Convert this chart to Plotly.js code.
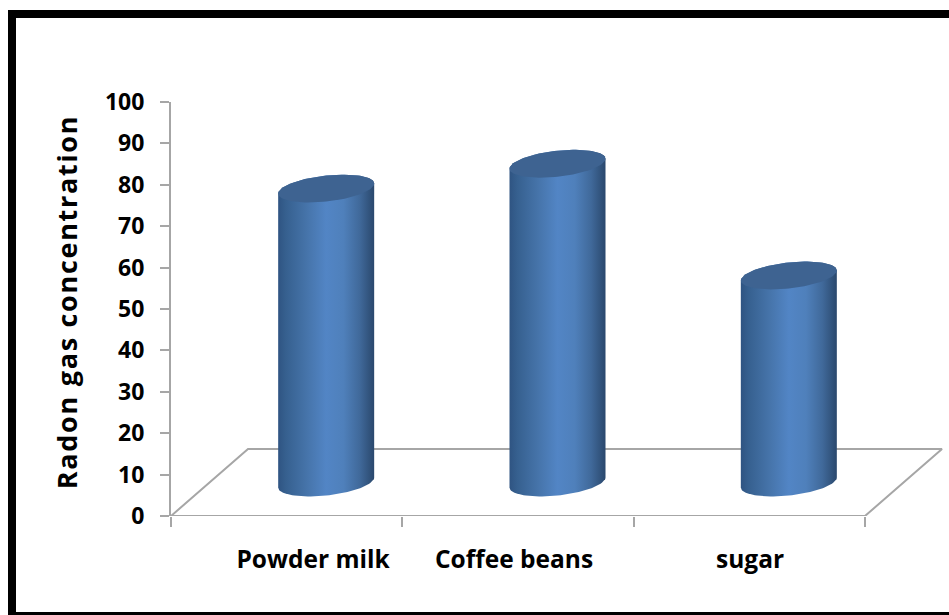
<!DOCTYPE html>
<html>
<head>
<meta charset="utf-8">
<script src="https://cdn.plot.ly/plotly-3.0.1.min.js"></script>
<style>
html,body{margin:0;padding:0;background:#fff}
#chart{width:949px;height:615px}
.ytitle{letter-spacing:1.7px}
</style>
</head>
<body>
<div id="chart"></div>
<script>
// Radon readings per sample
const categories = ["Powder milk", "Coffee beans", "sugar"];
const radonValues = [71, 77, 50];
const labelPositions = [0.114, 0.983, 2.003];
const yTicks = [0, 10, 20, 30, 40, 50, 60, 70, 80, 90, 100];

// Canvas geometry
const W = 949, H = 615;
const plotLeft = 171, plotRight = 947, plotTop = 102, plotBottom = 516;
const catPx = 694 / 3;
const unitPx = (plotBottom - plotTop) / 100;
const xMax = -0.5 + (plotRight - plotLeft) / catPx;

// Floor depth of the pseudo-3D scene, in axis units
const depthX = 77 / catPx;
const depthY = 67 / unitPx;

// Cylinder cross-section, in pixels converted to axis units
const radiusX = 48 / catPx;
const ellipseB = 13 / unitPx;
const ellipseTilt = 5 / unitPx;
const cylinderNudge = 1 / catPx;

const angles = [];
for (let k = 0; k <= 48; k++) angles.push(Math.PI * k / 48);

// One half of the tilted ellipse; side=+1 is the far rim, side=-1 the near rim
function rim(cx, cy, side) {
  return angles.map(t => ({
    x: cx + radiusX * Math.cos(t),
    y: cy + ellipseTilt * Math.cos(t) + side * ellipseB * Math.sin(t)
  }));
}

function cylinderTraces(i, value) {
  const cx = i + depthX / 2 + cylinderNudge;
  const base = depthY / 2;
  const top = base + value;
  const far = rim(cx, top, 1);
  const nearTop = rim(cx, top, -1).reverse();
  const nearBase = rim(cx, base, -1).reverse();
  const body = far.concat(nearBase);
  const lid = far.concat(nearTop);
  return [
    {
      type: "scatter", mode: "lines", cliponaxis: false, hoverinfo: "skip", showlegend: false,
      x: body.map(p => p.x), y: body.map(p => p.y),
      fill: "toself", line: {width: 0, color: "rgba(0,0,0,0)"},
      fillcolor: "#4f81bd",
      fillgradient: {
        type: "horizontal",
        colorscale: [
          [0, "#2f5482"], [0.08, "#36608f"], [0.3, "#4674aa"], [0.5, "#5285c5"],
          [0.68, "#4f80bb"], [0.85, "#40699a"], [1, "#2a486d"]
        ]
      }
    },
    {
      type: "scatter", mode: "lines", cliponaxis: false, hoverinfo: "skip", showlegend: false,
      x: lid.map(p => p.x), y: lid.map(p => p.y),
      fill: "toself", fillcolor: "#3e6391", line: {width: 0, color: "rgba(0,0,0,0)"}
    }
  ];
}

// Floor outline behind the cylinders; its near edge doubles as the category axis line
const floorTrace = {
  type: "scatter", mode: "lines", cliponaxis: false, hoverinfo: "skip", showlegend: false,
  x: [-0.5, 2.5, 2.5 + depthX, -0.5 + depthX, -0.5],
  y: [0, 0, depthY, depthY, 0],
  line: {color: "#a6a6a6", width: 2}
};

const traces = [floorTrace];
radonValues.forEach((v, i) => traces.push(...cylinderTraces(i, v)));

// Heavy frame around the figure, placed in paper coordinates
const px = v => (v - plotLeft) / (plotRight - plotLeft);
const py = v => (plotBottom - v) / (plotBottom - plotTop);
function frameBar(x0, y0, x1, y1) {
  return {
    type: "rect", xref: "paper", yref: "paper", layer: "above",
    x0: px(x0), x1: px(x1), y0: py(y0), y1: py(y1),
    fillcolor: "#000", line: {width: 0}
  };
}

const textFont = size => ({family: "'Open Sans', sans-serif", size: size, weight: 700, color: "#000"});

const layout = {
  width: W, height: H,
  paper_bgcolor: "#fff", plot_bgcolor: "rgba(0,0,0,0)",
  showlegend: false,
  margin: {l: plotLeft, r: W - plotRight, t: plotTop, b: H - plotBottom, pad: 0},
  font: {family: "'Open Sans', sans-serif", color: "#000"},
  xaxis: {
    type: "linear", range: [-0.5, xMax], showgrid: false, zeroline: false,
    showline: false,
    tickmode: "array", tickvals: labelPositions, ticktext: categories,
    ticks: "outside", ticklen: 22, tickcolor: "rgba(0,0,0,0)", tickwidth: 1,
    tickfont: textFont(24.5),
    minor: {
      tickmode: "array", tickvals: [-0.5, 0.5, 1.5, 2.5],
      ticks: "outside", ticklen: 10, tickcolor: "#a6a6a6", tickwidth: 2, showgrid: false
    }
  },
  yaxis: {
    range: [0, 100], showgrid: false, zeroline: false,
    showline: true, linecolor: "#a6a6a6", linewidth: 2,
    tickmode: "array", tickvals: yTicks,
    ticks: "outside", ticklen: 9, tickcolor: "#a6a6a6", tickwidth: 2,
    ticklabelstandoff: 11,
    tickfont: textFont(23),
    title: {
      text: "Radon gas concentration", standoff: 19,
      font: textFont(27)
    }
  },
  shapes: [
    frameBar(8, 10, 16, 615),
    frameBar(8, 10, 949, 18),
    frameBar(8, 612, 949, 615)
  ]
};

Plotly.newPlot("chart", traces, layout, {displayModeBar: false, staticPlot: true}).then(gd => {
  // Lift the rotated axis title along its baseline
  const title = gd.querySelector(".ytitle");
  if (title) title.setAttribute("dx", "7");
});
</script>
</body>
</html>
